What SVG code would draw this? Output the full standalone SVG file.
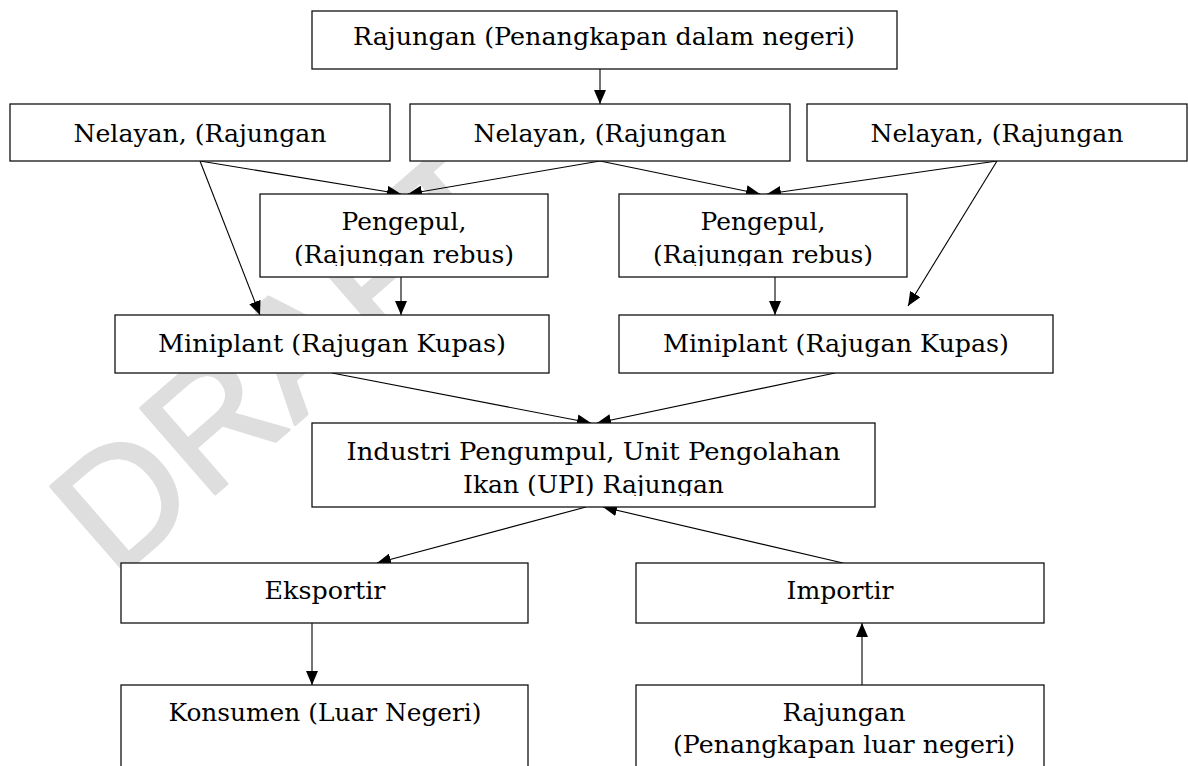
<svg xmlns="http://www.w3.org/2000/svg" width="1188" height="766" viewBox="0 0 1188 766">
<style>
.bx{fill:#fff;stroke:#111;stroke-width:1.3}
.t{font-family:"DejaVu Serif","Liberation Serif",serif;font-size:25px;fill:#000;text-anchor:middle}
.c{stroke:#000;stroke-width:1.1;fill:none;marker-end:url(#ah)}
.wm{font-family:"Liberation Sans",Arial,sans-serif;font-size:165px;fill:#dedede;stroke:#dedede;stroke-width:3;stroke-linejoin:round}
</style>
<defs>
<marker id="ah" markerUnits="userSpaceOnUse" markerWidth="14" markerHeight="12" refX="14" refY="6" orient="auto" viewBox="0 0 14 12"><path d="M0,0 L14,6 L0,12 z" fill="#000"/></marker>
<clipPath id="cpL"><rect x="260" y="194" width="288" height="72"/></clipPath>
<clipPath id="cpR"><rect x="619" y="194" width="288" height="72"/></clipPath>
<clipPath id="cpI"><rect x="312" y="423" width="563" height="73"/></clipPath>
</defs>
<rect width="1188" height="766" fill="#fff"/>
<g id="watermark"><text class="wm" transform="translate(115,581) rotate(-41)" x="0" y="0">DRAFT</text></g>

<g id="connectors">
<line class="c" x1="600" y1="69" x2="600" y2="104"/>
<line class="c" x1="200" y1="161" x2="401" y2="194"/>
<line class="c" x1="600" y1="161" x2="408" y2="194"/>
<line class="c" x1="600" y1="161" x2="760" y2="194"/>
<line class="c" x1="997" y1="161" x2="767" y2="194"/>
<line class="c" x1="200" y1="161" x2="260" y2="315"/>
<line class="c" x1="401" y1="277" x2="401" y2="315"/>
<line class="c" x1="775" y1="277" x2="775" y2="315"/>
<line class="c" x1="997" y1="161" x2="908" y2="306"/>
<line class="c" x1="332" y1="373" x2="591" y2="423"/>
<line class="c" x1="835" y1="373" x2="597" y2="423"/>
<line class="c" x1="586" y1="507" x2="377" y2="563"/>
<line class="c" x1="843" y1="563" x2="603" y2="507"/>
<line class="c" x1="312" y1="623" x2="312" y2="685"/>
<line class="c" x1="862" y1="685" x2="862" y2="623"/>
</g>

<g id="n-top"><rect class="bx" x="312" y="11" width="585" height="58"/><text class="t" x="604" y="45" textLength="502" lengthAdjust="spacingAndGlyphs">Rajungan (Penangkapan dalam negeri)</text></g>
<g id="n-nelayan1"><rect class="bx" x="10" y="104" width="380" height="57"/><text class="t" x="200" y="142" textLength="253" lengthAdjust="spacingAndGlyphs">Nelayan, (Rajungan</text></g>
<g id="n-nelayan2"><rect class="bx" x="410" y="104" width="380" height="57"/><text class="t" x="600" y="142" textLength="253" lengthAdjust="spacingAndGlyphs">Nelayan, (Rajungan</text></g>
<g id="n-nelayan3"><rect class="bx" x="807" y="104" width="380" height="57"/><text class="t" x="997" y="142" textLength="253" lengthAdjust="spacingAndGlyphs">Nelayan, (Rajungan</text></g>
<g id="n-pengepul1"><rect class="bx" x="260" y="194" width="288" height="83"/><g clip-path="url(#cpL)"><text class="t" x="404" y="230" textLength="125" lengthAdjust="spacingAndGlyphs">Pengepul,</text><text class="t" x="404" y="263" textLength="220" lengthAdjust="spacingAndGlyphs">(Rajungan rebus)</text></g></g>
<g id="n-pengepul2"><rect class="bx" x="619" y="194" width="288" height="83"/><g clip-path="url(#cpR)"><text class="t" x="763" y="230" textLength="125" lengthAdjust="spacingAndGlyphs">Pengepul,</text><text class="t" x="763" y="263" textLength="220" lengthAdjust="spacingAndGlyphs">(Rajungan rebus)</text></g></g>
<g id="n-miniplant1"><rect class="bx" x="115" y="315" width="434" height="58"/><text class="t" x="332" y="352" textLength="348" lengthAdjust="spacingAndGlyphs">Miniplant (Rajugan Kupas)</text></g>
<g id="n-miniplant2"><rect class="bx" x="619" y="315" width="434" height="58"/><text class="t" x="836" y="352" textLength="346" lengthAdjust="spacingAndGlyphs">Miniplant (Rajugan Kupas)</text></g>
<g id="n-industri"><rect class="bx" x="312" y="423" width="563" height="84"/><g clip-path="url(#cpI)"><text class="t" x="593.5" y="460" textLength="494" lengthAdjust="spacingAndGlyphs">Industri Pengumpul, Unit Pengolahan</text><text class="t" x="593.5" y="493" textLength="261" lengthAdjust="spacingAndGlyphs">Ikan (UPI) Rajungan</text></g></g>
<g id="n-eksportir"><rect class="bx" x="121" y="563" width="407" height="60"/><text class="t" x="325" y="599" textLength="121" lengthAdjust="spacingAndGlyphs">Eksportir</text></g>
<g id="n-importir"><rect class="bx" x="636" y="563" width="408" height="60"/><text class="t" x="840" y="599" textLength="107" lengthAdjust="spacingAndGlyphs">Importir</text></g>
<g id="n-konsumen"><rect class="bx" x="121" y="685" width="407" height="120"/><text class="t" x="325" y="721" textLength="313" lengthAdjust="spacingAndGlyphs">Konsumen (Luar Negeri)</text></g>
<g id="n-rajungan-luar"><rect class="bx" x="636" y="685" width="408" height="120"/><text class="t" x="844" y="721" textLength="123" lengthAdjust="spacingAndGlyphs">Rajungan</text><text class="t" x="844" y="753" textLength="342" lengthAdjust="spacingAndGlyphs">(Penangkapan luar negeri)</text></g>
</svg>
